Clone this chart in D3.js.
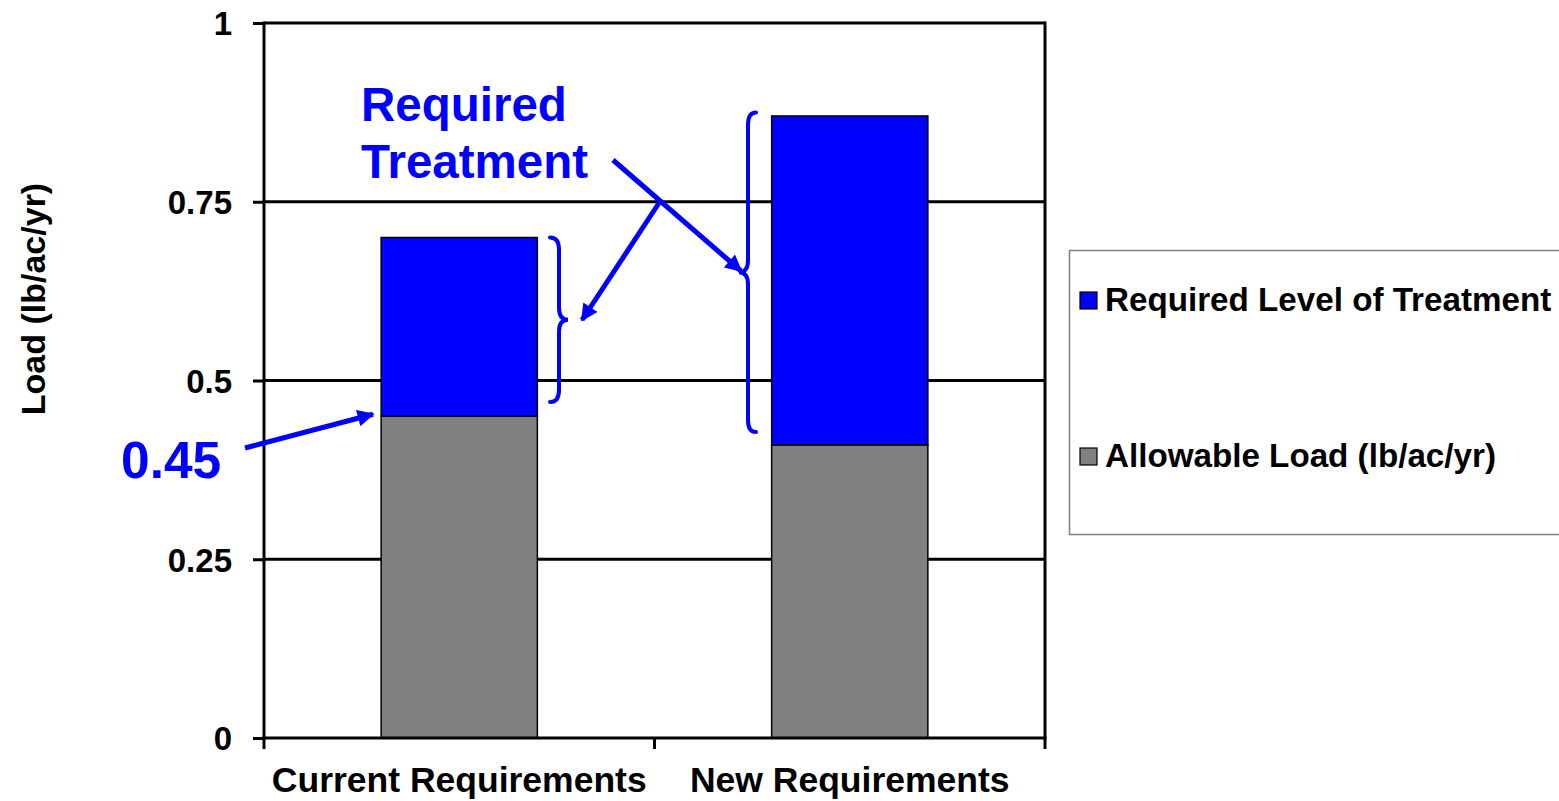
<!DOCTYPE html>
<html>
<head>
<meta charset="utf-8">
<script src="https://cdn.jsdelivr.net/npm/d3@7"></script>
<style>
  html, body { margin: 0; padding: 0; background: #fff; }
  svg { display: block; }
  text { font-family: "Liberation Sans", Arial, Helvetica, sans-serif; font-weight: bold; }
</style>
</head>
<body>
<svg id="chart" width="1559" height="801"></svg>
<script>
// Phosphorus load: allowable load vs. treatment still required
const categories = ["Current Requirements", "New Requirements"];
const allowableLoad = [0.45, 0.41];
const requiredTreatment = [0.25, 0.46];
const yTickValues = [0, 0.25, 0.5, 0.75, 1];
const yTickLabels = ["0", "0.25", "0.5", "0.75", "1"];
const seriesNames = ["Required Level of Treatment", "Allowable Load (lb/ac/yr)"];
const seriesColors = ["#0000ff", "#808080"];
const yAxisTitle = "Load  (lb/ac/yr)";
const calloutValue = "0.45";
const calloutLines = ["Required", "Treatment"];

const svg = d3.select("#chart");
const plot = { left: 264, right: 1045, top: 23, bottom: 738 };

const x = d3.scaleBand()
  .domain(categories)
  .range([plot.left, plot.right])
  .paddingInner(0.6)
  .paddingOuter(0.3);

const y = d3.scaleLinear()
  .domain([0, 1])
  .range([plot.bottom, plot.top]);

// Horizontal gridlines (0 is the category axis itself)
svg.append("g")
  .selectAll("line")
  .data(yTickValues.filter(v => v > 0))
  .join("line")
  .attr("x1", plot.left).attr("x2", plot.right)
  .attr("y1", d => y(d)).attr("y2", d => y(d))
  .attr("stroke", "#000").attr("stroke-width", 3);

// Right edge of the plot area
svg.append("line")
  .attr("x1", plot.right).attr("x2", plot.right)
  .attr("y1", y(1) - 1.5).attr("y2", y(0))
  .attr("stroke", "#000").attr("stroke-width", 3);

// Stacked bars
const stackData = categories.map((c, i) => ({ cat: c, allow: allowableLoad[i], treat: requiredTreatment[i] }));
const bars = svg.append("g");
bars.selectAll("rect.allow")
  .data(stackData)
  .join("rect")
  .attr("class", "allow")
  .attr("x", d => x(d.cat))
  .attr("width", x.bandwidth())
  .attr("y", d => y(d.allow))
  .attr("height", d => y(0) - y(d.allow))
  .attr("fill", seriesColors[1])
  .attr("stroke", "#000").attr("stroke-width", 1.5);
bars.selectAll("rect.treat")
  .data(stackData)
  .join("rect")
  .attr("class", "treat")
  .attr("x", d => x(d.cat))
  .attr("width", x.bandwidth())
  .attr("y", d => y(d.allow + d.treat))
  .attr("height", d => y(d.allow) - y(d.allow + d.treat))
  .attr("fill", seriesColors[0])
  .attr("stroke", "#000").attr("stroke-width", 1.5);

// Y axis
const yAxis = svg.append("g")
  .attr("transform", `translate(${plot.left},0)`)
  .call(d3.axisLeft(y)
    .tickValues(yTickValues)
    .tickFormat((d, i) => yTickLabels[i])
    .tickSize(11)
    .tickPadding(21));
yAxis.select(".domain").attr("stroke", "#000").attr("stroke-width", 3)
  .attr("d", `M0,${plot.top - 1.5}V${plot.bottom + 1.5}`);
yAxis.selectAll(".tick line").attr("stroke", "#000").attr("stroke-width", 3);
yAxis.selectAll(".tick text")
  .attr("fill", "#000")
  .style("font-size", "33px")
  .attr("dy", "0.36em");

// X axis line with ticks at category boundaries
const xb = svg.append("g");
xb.append("line")
  .attr("x1", plot.left - 1.5).attr("x2", plot.right + 1.5)
  .attr("y1", plot.bottom).attr("y2", plot.bottom)
  .attr("stroke", "#000").attr("stroke-width", 3);
const boundaries = d3.range(categories.length + 1).map(i => plot.left + i * (plot.right - plot.left) / categories.length);
xb.selectAll("line.tk")
  .data(boundaries)
  .join("line")
  .attr("class", "tk")
  .attr("x1", d => d).attr("x2", d => d)
  .attr("y1", plot.bottom).attr("y2", plot.bottom + 11)
  .attr("stroke", "#000").attr("stroke-width", 3);
xb.selectAll("text")
  .data(categories)
  .join("text")
  .attr("x", d => x(d) + x.bandwidth() / 2)
  .attr("y", 792)
  .attr("text-anchor", "middle")
  .style("font-size", "35.5px")
  .text(d => d);

// Y axis title
svg.append("text")
  .attr("transform", "translate(45,299) rotate(-90)")
  .attr("text-anchor", "middle")
  .style("font-size", "34px")
  .text(yAxisTitle);

// Legend
const legend = svg.append("g");
legend.append("rect")
  .attr("x", 1069.5).attr("y", 250.5)
  .attr("width", 520).attr("height", 284)
  .attr("fill", "#fff").attr("stroke", "#808080").attr("stroke-width", 1.5);
const legendRows = [311, 467];
seriesNames.forEach((name, i) => {
  legend.append("rect")
    .attr("x", 1080).attr("y", legendRows[i] - 19)
    .attr("width", 17).attr("height", 17)
    .attr("fill", seriesColors[i]).attr("stroke", "#000").attr("stroke-width", 1.2);
  legend.append("text")
    .attr("x", 1105).attr("y", legendRows[i])
    .style("font-size", "33.2px")
    .text(name);
});

// Annotations
const blue = "#0000ff";
const defs = svg.append("defs");
defs.append("marker")
  .attr("id", "arrowhead")
  .attr("viewBox", "0 0 10 10")
  .attr("refX", 9).attr("refY", 5)
  .attr("markerWidth", 4.4).attr("markerHeight", 3.4)
  .attr("markerUnits", "strokeWidth")
  .attr("orient", "auto")
  .append("path")
  .attr("d", "M0,0 L10,5 L0,10 z")
  .attr("fill", blue);

const ann = svg.append("g");

// Curly brace spanning y0..y1 at shaft position xs, ends at xe, point at xt
function brace(xe, xs, xt, y0, y1) {
  const ym = (y0 + y1) / 2;
  const r = 12;
  return `M${xe},${y0} Q${xs},${y0} ${xs},${y0 + r} L${xs},${ym - r} Q${xs},${ym} ${xt},${ym}` +
         ` Q${xs},${ym} ${xs},${ym + r} L${xs},${y1 - r} Q${xs},${y1} ${xe},${y1}`;
}
ann.append("path")
  .attr("d", brace(550, 559, 568, y(0.70), y(0.47)))
  .attr("fill", "none").attr("stroke", blue).attr("stroke-width", 4).attr("stroke-linecap", "round");
ann.append("path")
  .attr("d", brace(756, 748, 739, y(0.875), y(0.428)))
  .attr("fill", "none").attr("stroke", blue).attr("stroke-width", 4).attr("stroke-linecap", "round");

// Callout: "Required Treatment" with arrows to both braces
ann.selectAll("text.callout")
  .data(calloutLines)
  .join("text")
  .attr("class", "callout")
  .attr("x", 361)
  .attr("y", (d, i) => 121 + i * 57)
  .attr("fill", blue)
  .style("font-size", "47.5px")
  .text(d => d);

ann.append("line")
  .attr("x1", 613).attr("y1", 160).attr("x2", 741).attr("y2", 271)
  .attr("stroke", blue).attr("stroke-width", 5)
  .attr("marker-end", "url(#arrowhead)");
ann.append("line")
  .attr("x1", 659).attr("y1", 203).attr("x2", 582).attr("y2", 320)
  .attr("stroke", blue).attr("stroke-width", 5)
  .attr("marker-end", "url(#arrowhead)");

// Callout: allowable load on current requirements
ann.append("text")
  .attr("x", 121).attr("y", 478)
  .attr("fill", blue)
  .style("font-size", "51.5px")
  .text(calloutValue);
ann.append("line")
  .attr("x1", 245).attr("y1", 448).attr("x2", 373).attr("y2", y(+calloutValue) - 2)
  .attr("stroke", blue).attr("stroke-width", 5)
  .attr("marker-end", "url(#arrowhead)");
</script>
</body>
</html>
